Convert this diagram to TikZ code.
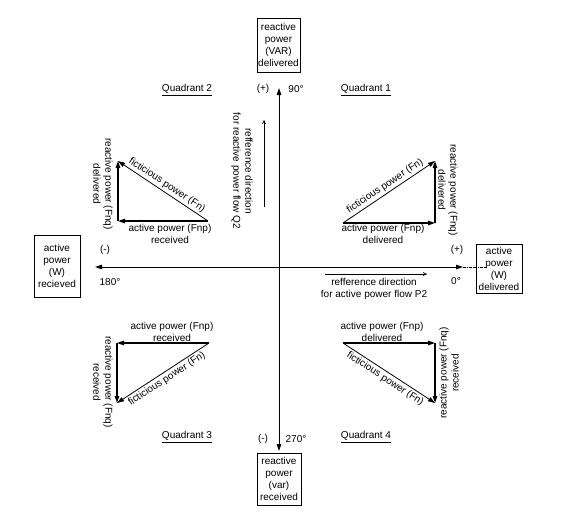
\documentclass[tikz,border=0pt]{standalone}
\usepackage{fontspec}
\setmainfont{Liberation Sans}
\usetikzlibrary{arrows.meta}

\begin{document}
\begin{tikzpicture}[x=1pt, y=-1pt, font=\fontsize{10}{12}\selectfont,
    axis/.style={line width=0.8pt, -{Triangle[length=7pt,width=4.5pt]}},
    vec/.style={line width=1.1pt, -{Triangle[length=7pt,width=4.5pt]}},
    hyp/.style={line width=0.8pt, -{Triangle[length=7pt,width=4.5pt]}},
    refdir/.style={line width=0.6pt, -{To[length=4pt,width=4pt]}},
    endbox/.style={draw, line width=0.7pt, align=center, inner sep=1pt},
    lbl/.style={inner sep=1pt, align=center},
    hyplbl/.style={inner sep=2pt, midway, sloped}]
    \useasboundingbox (0,0) rectangle (572,515);

    % end boxes
    \node[endbox, minimum width=43pt, minimum height=54pt] (var) at (278.5,45) {reactive\\power\\(VAR)\\delivered};
    \node[endbox, minimum width=44pt, minimum height=52pt] (varr) at (279,479) {reactive\\power\\(var)\\received};
    \node[endbox, minimum width=46pt, minimum height=62pt] (wr) at (57,266) {active\\power\\(W)\\recieved};
    \node[endbox, minimum width=46pt, minimum height=49pt] (wd) at (499,268.5) {active\\power\\(W)\\delivered};

    % axes
    \coordinate (o) at (279,267);
    \coordinate (top) at (279,88);
    \coordinate (bot) at (279,451);
    \coordinate (lft) at (95,267);
    \coordinate (rgt) at (463,267);
    \coordinate (dot) at (487,267);
    \draw[axis] (o) -- (top);
    \draw[axis] (o) -- (bot);
    \draw[axis] (o) -- (lft);
    \draw[axis] (o) -- (rgt);
    \draw[line width=0.6pt, densely dash dot] (rgt) -- (dot);

    \node[lbl] (plusn) at (263,89) {(+)};
    \node[lbl] (degn) at (296,89) {90°};
    \node[lbl] (minw) at (105,250) {(-)};
    \node[lbl] (degw) at (110,282) {180°};
    \node[lbl] (pluse) at (457,250) {(+)};
    \node[lbl] (dege) at (456,281) {0°};
    \node[lbl] (mins) at (263,439) {(-)};
    \node[lbl] (degs) at (296,439) {270°};

    % quadrant titles
    \node[lbl] (qtwo) at (187,90) {\underline{Quadrant 2}};
    \node[lbl] (qone) at (366,90) {\underline{Quadrant 1}};
    \node[lbl] (qthree) at (187,437) {\underline{Quadrant 3}};
    \node[lbl] (qfour) at (366,437) {\underline{Quadrant 4}};

    % reference directions
    \coordinate (qrefa) at (264,207);
    \coordinate (qrefb) at (264,120);
    \draw[refdir] (qrefa) -- (qrefb);
    \node[lbl, rotate=-90] (qref) at (242,171) {refference direction\\for reactive power flow Q2};
    \coordinate (prefa) at (325,274);
    \coordinate (prefb) at (427,274);
    \draw[refdir] (prefa) -- (prefb);
    \node[lbl] (pref) at (374,289) {refference direction\\for active power flow P2};

    % quadrant 1
    \coordinate (q1o) at (343,223);
    \coordinate (q1p) at (435,223);
    \coordinate (q1q) at (435,161);
    \draw[vec] (q1o) -- (q1p);
    \draw[vec] (q1p) -- (q1q);
    \draw[hyp] (q1o) -- node[hyplbl, above] {ficticious power (Fn)} (q1q);
    \node[lbl] (q1np) at (383,234) {active power (Fnp)\\delivered};
    \node[lbl, rotate=-90] (q1nq) at (448,190) {reactive power (Fnq)\\delivered};

    % quadrant 2
    \coordinate (q2o) at (208,221);
    \coordinate (q2p) at (118,221);
    \coordinate (q2q) at (118,161);
    \draw[vec] (q2o) -- (q2p);
    \draw[vec] (q2p) -- (q2q);
    \draw[hyp] (q2o) -- node[hyplbl, above] {ficticious power (Fn)} (q2q);
    \node[lbl] (q2np) at (170,234) {active power (Fnp)\\received};
    \node[lbl, rotate=-90] (q2nq) at (103,184) {reactive power (Fnq)\\delivered};

    % quadrant 3
    \coordinate (q3o) at (209,343);
    \coordinate (q3p) at (117,343);
    \coordinate (q3q) at (117,403);
    \draw[vec] (q3o) -- (q3p);
    \draw[vec] (q3p) -- (q3q);
    \draw[hyp] (q3o) -- node[hyplbl, below] {ficticious power (Fn)} (q3q);
    \node[lbl] (q3np) at (172,332) {active power (Fnp)\\received};
    \node[lbl, rotate=-90] (q3nq) at (103,382) {reactive power (Fnq)\\received};

    % quadrant 4
    \coordinate (q4o) at (343,343);
    \coordinate (q4p) at (435,343);
    \coordinate (q4q) at (435,403);
    \draw[vec] (q4o) -- (q4p);
    \draw[vec] (q4p) -- (q4q);
    \draw[hyp] (q4o) -- node[hyplbl, below] {ficticious power (Fn)} (q4q);
    \node[lbl] (q4np) at (382,332) {active power (Fnp)\\delivered};
    \node[lbl, rotate=90] (q4nq) at (449,373) {reactive power (Fnq)\\received};
\end{tikzpicture}
\end{document}
